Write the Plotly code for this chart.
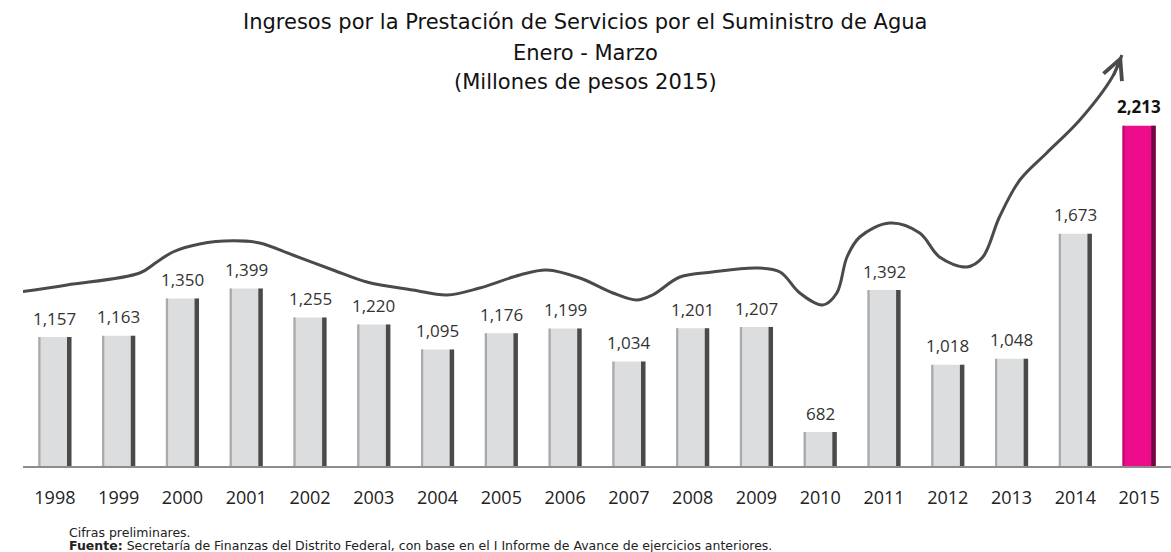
import plotly.graph_objects as go

years = list(range(1998, 2016))
ingresos = [1157, 1163, 1350, 1399, 1255, 1220, 1095, 1176, 1199,
            1034, 1201, 1207, 682, 1392, 1018, 1048, 1673, 2213]

# decorative trend line drawn above the bars
trend_x = [1997.50, 1998.19, 1999.33, 1999.60, 1999.85, 2000.27, 2000.79, 2001.21,
           2001.73, 2002.36, 2002.89, 2003.61, 2004.15, 2004.66, 2005.29, 2005.71,
           2006.23, 2006.75, 2007.12, 2007.37, 2007.80, 2008.31, 2009.00, 2009.37,
           2009.68, 2010.04, 2010.26, 2010.42, 2010.62, 2011.09, 2011.56, 2011.87,
           2012.30, 2012.55, 2012.81, 2013.13, 2013.55, 2014.07, 2014.58, 2014.73]
trend_y = [1384, 1417, 1477, 1532, 1582, 1622, 1638, 1627,
           1567, 1492, 1432, 1392, 1367, 1402, 1467, 1492,
           1452, 1377, 1342, 1367, 1457, 1482, 1502, 1482,
           1377, 1317, 1377, 1557, 1657, 1727, 1677, 1557,
           1507, 1557, 1757, 1942, 2077, 2242, 2457, 2567]

title_lines = ["Ingresos por la Prestación de Servicios por el Suministro de Agua",
               "Enero - Marzo",
               "(Millones de pesos 2015)"]
nota = "Cifras preliminares."
fuente = ("<b>Fuente:</b> Secretaría de Finanzas del Distrito Federal, con base en el "
          "I Informe de Avance de ejercicios anteriores.")

W, H = 1171, 552
ML, MR, MT, MB = 23, 0, 40, 86
PW, PH = W - ML - MR, H - MT - MB
Y0 = 512
PX_PER_UNIT = 0.2
FONT = "Open Sans"
TFONT = "DejaVu Sans"


def paper_x(px):
    return (px - ML) / PW


def paper_y(py):
    return (H - MB - py) / PH


n = len(years)
main_col = ["#dcdddf"] * (n - 1) + ["#ec0c8c"]
left_col = ["#a9a9a9"] * (n - 1) + ["#c20a72"]
right_col = ["#4a4a4a"] * (n - 1) + ["#6e0a42"]

BW = 0.52
fig = go.Figure()
fig.add_trace(go.Bar(x=years, y=ingresos, width=BW, marker_color=main_col,
                     marker_line_width=0, hoverinfo="x+y"))
fig.add_trace(go.Bar(x=years, y=ingresos, width=0.035, offset=-BW / 2,
                     marker_color=left_col, marker_line_width=0, hoverinfo="skip"))
fig.add_trace(go.Bar(x=years, y=ingresos, width=0.07, offset=BW / 2 - 0.07,
                     marker_color=right_col, marker_line_width=0, hoverinfo="skip"))

fig.add_trace(go.Scatter(x=trend_x, y=trend_y, mode="lines",
                         line=dict(color="#4a4a4a", width=3, shape="spline"),
                         hoverinfo="skip"))

# arrow head at the end of the trend line
fig.add_annotation(x=trend_x[-1], y=trend_y[-1], ax=-9, ay=22, text="",
                   showarrow=True, arrowhead=5, arrowsize=1.3, arrowwidth=3,
                   arrowcolor="#4a4a4a")

for yr, v in zip(years, ingresos):
    last = yr == years[-1]
    fig.add_annotation(x=yr, y=v, text=f"<b>{v:,}</b>" if last else f"{v:,}",
                       showarrow=False, yanchor="middle", yshift=19,
                       font=dict(family=FONT, size=17,
                                 color="#111111" if last else "#333333"))

for txt, py in zip(title_lines, [22, 53, 82]):
    fig.add_annotation(xref="paper", yref="paper", x=paper_x(585), y=paper_y(py),
                       text=txt, showarrow=False, yanchor="middle",
                       font=dict(family=TFONT, size=21, color="#111111"))

fig.add_annotation(xref="paper", yref="paper", x=paper_x(67), y=paper_y(532),
                   text=nota, showarrow=False, xanchor="left", yanchor="middle",
                   font=dict(family=TFONT, size=12.5, color="#222222"))
fig.add_annotation(xref="paper", yref="paper", x=paper_x(67), y=paper_y(545),
                   text=fuente, showarrow=False, xanchor="left", yanchor="middle",
                   font=dict(family=TFONT, size=12.5, color="#222222"))

fig.update_layout(
    width=W, height=H,
    margin=dict(l=ML, r=MR, t=MT, b=MB),
    barmode="overlay",
    showlegend=False,
    plot_bgcolor="white",
    paper_bgcolor="white",
    xaxis=dict(range=[1997.5, 2015.5], tickvals=years, ticktext=[str(y) for y in years],
               showgrid=False, zeroline=False, showline=True, linecolor="#8c8c8c",
               linewidth=2, ticks="", ticklabelstandoff=14,
               tickfont=dict(family=FONT, size=18, color="#222222")),
    yaxis=dict(range=[Y0, Y0 + PH / PX_PER_UNIT], visible=False, showgrid=False,
               zeroline=False),
)

fig.write_html("out.html", config={"displayModeBar": False},
               post_script="document.body.style.margin='0';")
